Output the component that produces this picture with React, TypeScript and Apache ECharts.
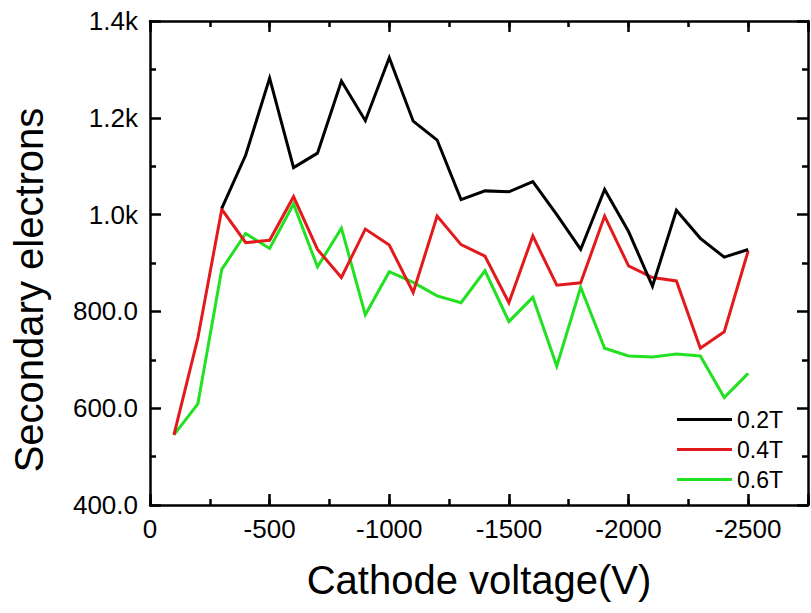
import React, { useEffect, useRef } from "react";
import * as echarts from "echarts";

// Cathode voltage (V) — plotted left-to-right by magnitude
const cathodeVoltage = [
  -100, -200, -300, -400, -500, -600, -700, -800, -900, -1000, -1100, -1200, -1300,
  -1400, -1500, -1600, -1700, -1800, -1900, -2000, -2100, -2200, -2300, -2400, -2500,
];
const seriesNames = ["0.2T", "0.4T", "0.6T"];
const electrons02T = [
  null, null, 1013, 1123, 1282, 1097, 1127, 1276, 1194, 1324, 1193, 1154, 1031,
  1049, 1047, 1068, 1000, 928, 1052, 965, 852, 1009, 951, 912, 928,
];
const electrons04T = [
  545, 745, 1011, 942, 947, 1037, 928, 870, 970, 937, 839, 997, 938,
  914, 818, 956, 854, 859, 997, 894, 870, 863, 724, 758, 925,
];
const electrons06T = [
  545, 609, 887, 961, 930, 1022, 892, 972, 793, 882, 860, 832, 818,
  884, 779, 829, 687, 850, 724, 708, 706, 712, 708, 622, 672,
];
const seriesColors = ["#000000", "#e31a1c", "#22e022"];

const xTickValues = [0, -500, -1000, -1500, -2000, -2500];
const xTickLabels = ["0", "-500", "-1000", "-1500", "-2000", "-2500"];
const yTickValues = [400, 600, 800, 1000, 1200, 1400];
const yTickLabels = ["400.0", "600.0", "800.0", "1.0k", "1.2k", "1.4k"];

const FONT = "'Liberation Sans', Arial, sans-serif";

export default function App() {
  const ref = useRef<HTMLDivElement>(null);
  useEffect(() => {
    if (!ref.current) return;
    const chart = echarts.init(ref.current, null, { renderer: "svg" });
    const lineStyle = { color: "#000", width: 2.5 };
    const axisLine = { show: true, onZero: false, lineStyle };
    const majorTick = { show: true, inside: true, length: 11, lineStyle };
    const baseX = {
      type: "value",
      min: 0,
      max: 2750,
      splitLine: { show: false },
    };
    const xMajor = (position: string, labels: boolean) => ({
      ...baseX,
      position,
      interval: 500,
      axisLine,
      axisTick: majorTick,
      axisLabel: labels
        ? {
            show: true,
            margin: 11,
            fontSize: 26,
            color: "#000",
            fontFamily: FONT,
            formatter: (v: number) => {
              const i = xTickValues.indexOf(-v);
              return i >= 0 ? xTickLabels[i] : "";
            },
          }
        : { show: false },
      ...(labels
        ? {
            name: "Cathode voltage(V)",
            nameLocation: "middle",
            nameGap: 55,
            nameTextStyle: { fontSize: 40, color: "#000", fontFamily: FONT },
          }
        : {}),
    });
    const xMinor = (position: string) => ({
      ...baseX,
      position,
      interval: 250,
      axisLine: { show: false },
      axisTick: { show: true, inside: true, length: 6, lineStyle },
      axisLabel: { show: false },
    });
    const yAxisBase = (position: string, labels: boolean) => ({
      type: "value",
      min: 400,
      max: 1400,
      interval: 200,
      position,
      splitLine: { show: false },
      axisLine,
      axisTick: majorTick,
      minorTick: { show: true, splitNumber: 2, length: 6, lineStyle },
      minorSplitLine: { show: false },
      axisLabel: labels
        ? {
            show: true,
            margin: 12,
            fontSize: 26,
            color: "#000",
            fontFamily: FONT,
            formatter: (v: number) => {
              const i = yTickValues.indexOf(v);
              return i >= 0 ? yTickLabels[i] : "";
            },
          }
        : { show: false },
      ...(labels
        ? {
            name: "Secondary electrons",
            nameLocation: "middle",
            nameGap: 101,
            nameRotate: 90,
            nameTextStyle: {
              fontSize: 40,
              color: "#000",
              fontFamily: FONT,
              padding: [0, 54, 0, 0],
            },
          }
        : {}),
    });

    const allValues = [electrons02T, electrons04T, electrons06T];
    const series = allValues.map((vals, s) => ({
      name: seriesNames[s],
      type: "line",
      xAxisIndex: 0,
      yAxisIndex: 0,
      symbol: "none",
      showSymbol: false,
      color: seriesColors[s],
      lineStyle: { color: seriesColors[s], width: 3, join: "miter" },
      data: cathodeVoltage
        .map((v, i) => [-v, vals[i]])
        .filter((p) => p[1] !== null),
      z: 3 - s,
    }));

    chart.setOption({
      animation: false,
      backgroundColor: "#fff",
      grid: { left: 150, top: 21, width: 665.5, height: 484, containLabel: false },
      xAxis: [xMajor("bottom", true), xMajor("top", false), xMinor("bottom"), xMinor("top")],
      yAxis: [yAxisBase("left", true), yAxisBase("right", false)],
      legend: {
        data: seriesNames,
        orient: "vertical",
        left: 677,
        top: 408,
        padding: 0,
        itemWidth: 55,
        itemHeight: 3,
        itemGap: 7,
        icon: "rect",
        textStyle: {
          fontSize: 23,
          color: "#000",
          fontFamily: FONT,
        },
      },
      series,
    });
    return () => chart.dispose();
  }, []);
  return (
    <div
      ref={ref}
      style={{ position: "fixed", left: 0, top: 0, width: 811, height: 613, background: "#fff" }}
    />
  );
}
